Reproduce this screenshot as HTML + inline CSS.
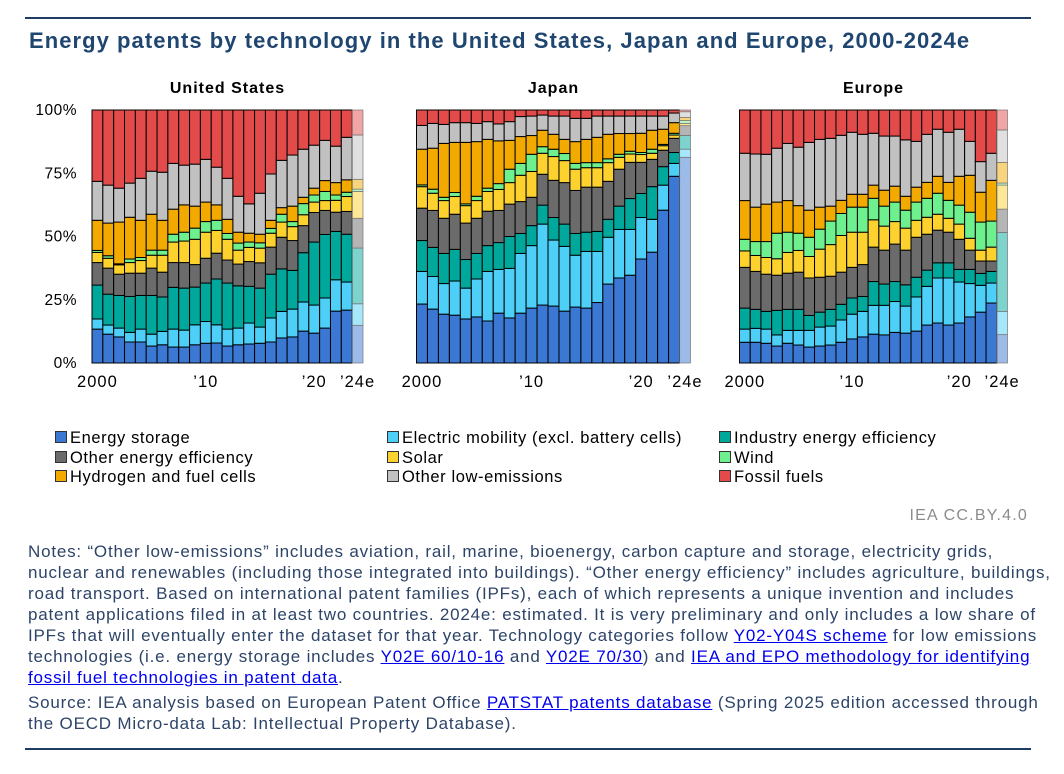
<!DOCTYPE html>
<html><head><meta charset="utf-8">
<style>
body{margin:0;background:#fff;width:1064px;height:774px;overflow:hidden;font-family:"Liberation Sans",Arial,sans-serif;position:relative}
.hr{position:absolute;left:25px;width:1006px;height:2px;background:#1f3d63}
#title{position:absolute;left:29px;top:28px;font-size:22px;letter-spacing:1.05px;font-weight:bold;color:#1f4670;white-space:nowrap}
.lg{position:absolute;font-size:16.5px;letter-spacing:0.6px;color:#000;white-space:nowrap}
.sw{display:inline-block;width:10px;height:10px;border:1px solid #333;margin-right:3px;vertical-align:0px}
#notes{position:absolute;left:28px;top:541px;font-size:17px;letter-spacing:0.8px;line-height:21px;color:#2d4468;white-space:nowrap}
.lk{color:#0000ee;text-decoration:underline}
#credit{position:absolute;right:36px;top:507px;font-size:16px;letter-spacing:1.2px;color:#8c8c8c}
</style></head><body>
<div class="hr" style="top:17px"></div>
<div id="title">Energy patents by technology in the United States, Japan and Europe, 2000-2024e</div>
<svg id="chart" width="1064" height="400" style="position:absolute;left:0;top:0"></svg>
<div id="legend"></div>
<div id="credit">IEA CC.BY.4.0</div>
<div id="notes">Notes: “Other low-emissions” includes aviation, rail, marine, bioenergy, carbon capture and storage, electricity grids,<br>nuclear and renewables (including those integrated into buildings). “Other energy efficiency” includes agriculture, buildings,<br>road transport. Based on international patent families (IPFs), each of which represents a unique invention and includes<br>patent applications filed in at least two countries. 2024e: estimated. It is very preliminary and only includes a low share of<br>IPFs that will eventually enter the dataset for that year. Technology categories follow <a class="lk">Y02-Y04S scheme</a> for low emissions<br>technologies (i.e. energy storage includes <a class="lk">Y02E 60/10-16</a> and <a class="lk">Y02E 70/30</a>) and <a class="lk">IEA and EPO methodology for identifying<br>fossil fuel technologies in patent data</a>.<div style="height:4px"></div>Source: IEA analysis based on European Patent Office <a class="lk">PATSTAT patents database</a> (Spring 2025 edition accessed through<br>the OECD Micro-data Lab: Intellectual Property Database).</div>
<div class="hr" style="top:748px"></div>
<script>
const categories=["Energy storage","Electric mobility (excl. battery cells)","Industry energy efficiency","Other energy efficiency","Solar","Wind","Hydrogen and fuel cells","Other low-emissions","Fossil fuels"];
const years=["2000","2001","2002","2003","2004","2005","2006","2007","2008","2009","2010","2011","2012","2013","2014","2015","2016","2017","2018","2019","2020","2021","2022","2023","2024e"];
const tickLabels=["0%","25%","50%","75%","100%"];
const tickValues=[0,25,50,75,100];
const xTickLabels=["2000","’10","’20","’24e"];
const xTickIndex=[0,10,20,24];
// United States shares (%)
const usStorage=[13.4,11.4,10.3,8.3,8.3,6.7,7.2,6.3,6.3,7.2,7.8,7.9,6.7,7.2,7.5,7.8,8.3,9.9,10.3,12.6,11.8,13.8,20.5,20.9,14.9];
const usMobility=[4.0,3.6,3.5,3.8,5.1,4.7,5.3,7.1,6.7,7.9,8.6,7.2,6.7,6.6,8.3,6.4,9.5,10.5,11.0,11.5,11.1,11.9,12.4,11.1,8.5];
const usIndustry=[13.4,12.2,12.9,14.2,13.3,15.3,13.6,16.5,16.6,14.9,15.2,18.1,18.2,16.7,14.5,15.4,17.3,16.8,15.3,19.5,24.9,25.1,19.1,18.9,22.0];
const usOtherEff=[8.9,10.3,8.4,9.2,8.8,10.8,9.8,9.8,10.1,8.9,9.8,10.2,9.1,8.6,9.8,10.0,10.7,12.5,11.8,10.7,11.7,9.5,7.6,9.0,11.8];
const usSolar=[4.0,3.9,3.7,4.2,5.0,5.1,6.7,8.1,8.5,10.0,10.3,9.0,8.2,5.5,5.6,5.8,5.5,6.0,5.5,4.3,4.1,3.9,4.7,5.9,10.6];
const usWind=[0.8,1.0,0.4,1.4,1.2,2.0,2.0,3.1,3.5,4.4,4.2,4.0,2.3,2.8,2.1,2.1,1.9,3.1,2.0,4.4,2.8,3.6,2.1,1.7,0.9];
const usHydrogen=[11.9,12.9,16.5,16.5,14.7,14.2,11.8,9.9,10.8,8.7,7.7,6.1,5.6,4.3,3.5,3.4,3.2,2.6,6.1,2.5,2.7,4.3,4.9,4.9,3.9];
const usOtherLow=[15.4,15.0,13.4,13.5,16.6,17.0,19.0,18.1,15.7,16.6,16.9,14.9,16.2,14.2,11.6,16.2,18.3,18.7,20.2,19.0,17.0,15.9,14.4,16.8,17.5];
const usFossil=[28.2,29.7,30.9,28.9,27.0,24.2,24.6,21.1,21.8,21.4,19.5,22.6,27.0,34.1,37.1,32.9,25.3,19.9,17.8,15.5,13.9,12.0,14.3,10.8,9.9];
// Japan shares (%)
const jpStorage=[23.3,21.3,19.3,18.9,17.4,18.2,16.6,19.7,17.8,19.7,21.7,22.9,22.5,20.5,22.1,21.7,23.9,31.2,33.6,34.7,41.1,43.8,60.4,73.8,81.3];
const jpMobility=[12.9,12.9,12.1,13.5,12.2,15.0,19.6,17.3,19.6,23.6,24.7,32.0,26.1,25.6,20.5,22.4,20.2,18.5,19.2,18.1,16.4,13.0,9.9,5.1,3.2];
const jpIndustry=[12.2,11.5,11.9,12.5,11.3,10.1,10.2,10.6,12.6,7.9,7.9,7.5,8.9,8.8,8.6,7.6,7.9,7.1,9.2,12.2,9.5,12.9,7.3,4.3,5.4];
const jpOtherEff=[12.8,14.6,13.9,13.9,14.4,13.9,13.6,12.7,12.8,12.6,11.2,12.2,14.7,16.4,17.0,17.8,17.5,15.0,14.6,14.3,12.3,10.8,6.5,5.6,3.9];
const jpSolar=[8.5,6.8,7.0,7.0,6.9,7.0,7.8,8.3,8.5,10.4,10.2,8.3,9.4,8.7,8.4,7.7,7.7,7.4,4.7,3.3,3.1,2.4,1.8,1.3,0.9];
const jpWind=[0.7,1.6,1.3,1.6,0.7,1.7,1.3,2.3,5.3,4.7,6.8,2.6,2.9,2.8,2.3,2.0,2.0,1.5,1.2,1.1,0.8,1.6,0.5,0.7,1.1];
const jpHydrogen=[14.1,16.2,21.3,19.8,24.3,21.6,19.3,16.9,11.4,10.6,7.4,6.5,5.9,5.6,8.6,9.2,10.0,9.7,8.2,7.0,7.6,7.5,6.0,4.2,1.3];
const jpOtherLow=[9.4,9.8,7.5,7.8,7.8,7.2,7.0,6.7,7.4,7.9,7.7,6.0,7.2,9.2,9.2,8.3,8.4,7.2,6.9,6.9,6.8,5.6,5.2,3.8,2.2];
const jpFossil=[6.1,5.3,5.7,5.0,5.0,5.3,4.6,5.5,4.6,2.6,2.4,2.0,2.4,2.4,3.3,3.3,2.4,2.4,2.4,2.4,2.4,2.4,2.4,1.2,0.7];
// Europe shares (%)
const euStorage=[8.2,8.2,7.8,6.7,7.8,7.1,6.3,6.7,7.1,8.2,9.5,10.3,11.4,11.1,12.1,11.8,12.6,15.0,15.8,15.0,15.8,18.2,20.1,23.7,11.2];
const euMobility=[5.2,5.5,5.6,4.4,5.1,5.8,6.6,7.5,7.5,8.8,9.8,10.1,11.4,11.7,12.2,10.7,13.5,15.3,17.8,18.6,16.2,13.2,10.6,7.9,9.2];
const euIndustry=[8.3,7.5,7.0,9.7,8.3,8.3,5.9,5.9,6.6,6.2,6.4,5.9,9.4,8.4,7.9,8.4,7.8,6.4,6.0,6.0,5.0,5.6,4.7,4.6,31.2];
const euOtherEff=[16.1,15.0,14.7,13.9,14.3,14.7,14.8,13.8,13.1,12.7,12.1,12.6,13.6,13.4,14.8,13.7,15.8,14.2,12.9,12.1,11.9,7.6,4.9,4.1,9.2];
const euSolar=[6.5,6.3,6.6,6.5,8.2,8.6,8.5,11.1,12.5,14.5,13.9,12.8,10.8,9.5,8.9,8.7,6.7,6.7,6.3,5.5,6.0,4.7,4.3,5.5,9.5];
const euWind=[4.6,5.5,6.3,10.1,8.0,6.8,7.6,7.9,9.3,8.7,9.9,9.9,8.5,7.9,7.7,7.1,7.2,7.5,8.3,7.1,7.5,10.3,11.1,10.3,0.8];
const euHydrogen=[15.3,13.6,14.8,12.3,12.5,10.9,10.7,8.7,5.9,5.2,5.1,5.1,5.2,6.3,6.3,5.5,5.9,6.3,6.7,7.1,11.4,14.6,11.8,16.1,8.2];
const euOtherLow=[18.7,21.0,19.7,21.3,22.6,23.1,26.8,26.8,26.8,25.7,24.5,23.7,20.5,21.4,19.8,22.3,18.1,19.0,18.6,19.8,18.6,13.4,12.1,10.7,12.8];
const euFossil=[17.1,17.4,17.5,15.1,13.2,14.7,12.8,11.6,11.2,10.0,8.8,9.6,9.2,10.3,10.3,11.8,12.4,9.6,7.6,8.8,7.6,12.4,20.4,17.1,7.9];

const colors=["#3b78d3","#4dcff7","#00a89c","#6b6b6b","#fdd22f","#6ef08e","#f2a900","#c1c1c1","#e34b4b"];
const panels=[
 {name:"United States",key:"us",x0:92,x1:363,series:[usStorage,usMobility,usIndustry,usOtherEff,usSolar,usWind,usHydrogen,usOtherLow,usFossil]},
 {name:"Japan",key:"japan",x0:416.5,x1:690.5,series:[jpStorage,jpMobility,jpIndustry,jpOtherEff,jpSolar,jpWind,jpHydrogen,jpOtherLow,jpFossil]},
 {name:"Europe",key:"europe",x0:739.5,x1:1007.5,series:[euStorage,euMobility,euIndustry,euOtherEff,euSolar,euWind,euHydrogen,euOtherLow,euFossil]}
];
const yTop=110,yBot=363;
function yScale(v){return yBot-(v/100)*(yBot-yTop);}
const svg=document.getElementById('chart');
const NS="http://www.w3.org/2000/svg";
function mk(tag,attrs){const e=document.createElementNS(NS,tag);for(const k in attrs)e.setAttribute(k,attrs[k]);return e;}

tickValues.forEach((v,i)=>{
  const t=mk('text',{x:77,y:yScale(v)+5,'text-anchor':'end','font-size':'15.5','letter-spacing':'0.5','fill':'#000','font-family':'Liberation Sans, sans-serif'});
  t.textContent=tickLabels[i];
  
  
  svg.appendChild(t);
});

panels.forEach(p=>{
  const n=years.length;
  const bw=(p.x1-p.x0)/n;
  const xScale=i=>p.x0+i*bw;
  const g=mk('g',{});
  
  
  svg.appendChild(g);
  const title=mk('text',{x:(p.x0+p.x1)/2,y:93,'text-anchor':'middle','font-size':'16','letter-spacing':'1','font-weight':'bold','fill':'#000','font-family':'Liberation Sans, sans-serif'});
  title.textContent=p.name;
  
  
  g.appendChild(title);
  for(let i=0;i<n;i++){
    let total=0;p.series.forEach(s=>total+=s[i]);
    let cum=0;
    const est=(i===n-1);
    p.series.forEach((s,k)=>{
      const v=s[i]/total*100;
      const yT=yScale(cum+v),yB=yScale(cum);
      cum+=v;
      const r=mk('rect',{x:xScale(i),y:yT,width:bw,height:Math.max(0,yB-yT),fill:colors[k],'fill-opacity':est?0.5:1,stroke:est?'#777':'#000','stroke-width':est?0.7:1});
      
      
      g.appendChild(r);
    });
  }
  xTickIndex.forEach((idx,j)=>{
    const t=mk('text',{x:xScale(idx)+bw/2,y:387,'text-anchor':'middle','font-size':'16.5','letter-spacing':'1','fill':'#000','font-family':'Liberation Sans, sans-serif'});
    t.textContent=xTickLabels[j];
    
    
    g.appendChild(t);
  });
});

const legCols=[55,387,719],legRows=[440,460,479];
const legOrder=[0,1,2,3,4,5,6,7,8];
const lg=document.getElementById('legend');
legOrder.forEach((k,i)=>{
  const d=document.createElement('div');
  d.className='lg';
  d.style.left=legCols[i%3]+'px';
  d.style.top=(legRows[Math.floor(i/3)]-11)+'px';
  d.innerHTML='<span class="sw" style="background:'+colors[k]+'"></span>'+categories[k];
  
  
  lg.appendChild(d);
});
</script>
</body></html>
